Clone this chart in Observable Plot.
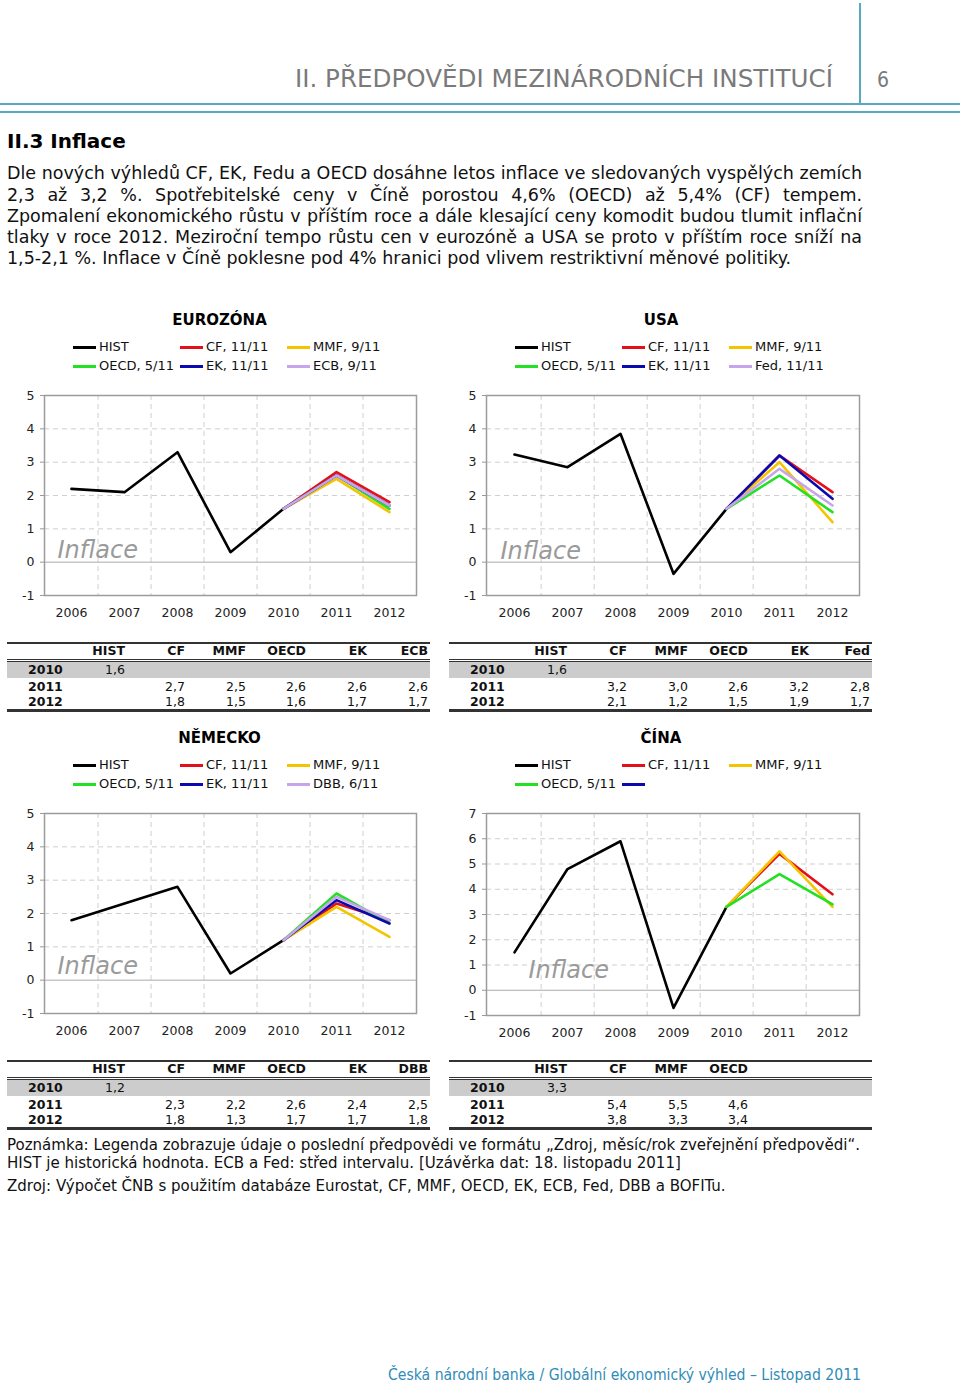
<!DOCTYPE html>
<html><head><meta charset="utf-8">
<script src="https://cdn.jsdelivr.net/npm/d3@7"></script>
<script src="https://cdn.jsdelivr.net/npm/@observablehq/plot@0.6"></script>
<style>
body{margin:0;background:#fff;}
#page{position:relative;width:960px;height:1388px;overflow:hidden;font-family:"DejaVu Sans",Verdana,sans-serif;color:#000;}
.abs{position:absolute;white-space:nowrap;}
</style></head><body><div id="page"></div>
<script>
// ---------- DATA ----------
const years = [2006, 2007, 2008, 2009, 2010, 2011, 2012];
const histYears = [2006, 2007, 2008, 2009, 2010];

// Eurozone
const eaTitle = "EUROZÓNA";
const eaHist = [2.2, 2.1, 3.3, 0.3, 1.6];
const eaNames = ["CF", "MMF", "OECD", "EK", "ECB"];
const eaLegend = ["CF, 11/11", "MMF, 9/11", "OECD, 5/11", "EK, 11/11", "ECB, 9/11"];
const ea2011 = [2.7, 2.5, 2.6, 2.6, 2.6];
const ea2012 = [1.8, 1.5, 1.6, 1.7, 1.7];

// USA
const usTitle = "USA";
const usHist = [3.23, 2.85, 3.85, -0.35, 1.6];
const usNames = ["CF", "MMF", "OECD", "EK", "Fed"];
const usLegend = ["CF, 11/11", "MMF, 9/11", "OECD, 5/11", "EK, 11/11", "Fed, 11/11"];
const us2011 = [3.2, 3.0, 2.6, 3.2, 2.8];
const us2012 = [2.1, 1.2, 1.5, 1.9, 1.7];

// Germany
const deTitle = "NĚMECKO";
const deHist = [1.8, 2.3, 2.8, 0.2, 1.2];
const deNames = ["CF", "MMF", "OECD", "EK", "DBB"];
const deLegend = ["CF, 11/11", "MMF, 9/11", "OECD, 5/11", "EK, 11/11", "DBB, 6/11"];
const de2011 = [2.3, 2.2, 2.6, 2.4, 2.5];
const de2012 = [1.8, 1.3, 1.7, 1.7, 1.8];

// China
const cnTitle = "ČÍNA";
const cnHist = [1.5, 4.8, 5.9, -0.7, 3.3];
const cnNames = ["CF", "MMF", "OECD"];
const cnLegend = ["CF, 11/11", "MMF, 9/11", "OECD, 5/11", "", null];
const cn2011 = [5.4, 5.5, 4.6];
const cn2012 = [3.8, 3.3, 3.4];

const seriesColors = ["#e3101a", "#f5c400", "#22e022", "#0a0ab0", "#c8a4ea"];
const histColor = "#000";

const yTicks5 = [-1, 0, 1, 2, 3, 4, 5];
const yTicks7 = [-1, 0, 1, 2, 3, 4, 5, 6, 7];

const headerTitle = "II. PŘEDPOVĚDI MEZINÁRODNÍCH INSTITUCÍ";
const pageNo = "6";
const sectionTitle = "II.3 Inflace";
const paraLines = [
  "Dle nových výhledů CF, EK, Fedu a OECD dosáhne letos inflace ve sledovaných vyspělých zemích",
  "2,3 až 3,2 %. Spotřebitelské ceny v Číně porostou 4,6% (OECD) až 5,4% (CF) tempem.",
  "Zpomalení ekonomického růstu v příštím roce a dále klesající ceny komodit budou tlumit inflační",
  "tlaky v roce 2012. Meziroční tempo růstu cen v eurozóně a USA se proto v příštím roce sníží na",
  "1,5-2,1 %. Inflace v Číně poklesne pod 4% hranici pod vlivem restriktivní měnové politiky."
];
const noteLines = [
  "Poznámka: Legenda zobrazuje údaje o poslední předpovědi ve formátu „Zdroj, měsíc/rok zveřejnění předpovědi“.",
  "HIST je historická hodnota. ECB a Fed: střed intervalu. [Uzávěrka dat: 18. listopadu 2011]",
  "Zdroj: Výpočet ČNB s použitím databáze Eurostat, CF, MMF, OECD, EK, ECB, Fed, DBB a BOFITu."
];
const footerText = "Česká národní banka / Globální ekonomický výhled – Listopad 2011";

// ---------- HELPERS ----------
const page = document.getElementById("page");
function el(tag, css, text) {
  const e = document.createElement(tag);
  e.className = "abs";
  Object.assign(e.style, css);
  if (text != null) e.textContent = text;
  page.appendChild(e);
  return e;
}
function line(x, y, w, h, color) {
  return el("div", {left: x + "px", top: y + "px", width: w + "px", height: h + "px", background: color});
}
function fitScale(e, target) {
  const w = e.getBoundingClientRect().width;
  return target / w;
}
const fmt = v => v.toFixed(1).replace(".", ",");

// ---------- HEADER ----------
const teal = "#5aa9c2";
line(859, 3, 1.5, 101, teal);
line(0, 103, 960, 2, teal);
line(0, 111, 960, 1.5, teal);
const ht = el("div", {top: "63px", left: "0px", fontFamily: "DejaVu Sans Condensed", fontSize: "25px", lineHeight: "32px", color: "#7a7a7a"}, headerTitle);
{
  const s = fitScale(ht, 538);
  ht.style.transformOrigin = "left top";
  ht.style.transform = `scaleX(${s})`;
  ht.style.left = (833 - 538) + "px";
}
el("div", {top: "66px", left: "877px", fontFamily: "DejaVu Sans Condensed", fontSize: "21px", lineHeight: "28px", color: "#7a7a7a"}, pageNo);

el("div", {top: "129px", left: "7px", fontWeight: "bold", fontSize: "20px", lineHeight: "24px"}, sectionTitle);

// paragraph
{
  const probe = el("span", {fontSize: "16px", left: "0px", top: "0px", visibility: "hidden"}, paraLines[0]);
  const fs = 16 * fitScale(probe, 855);
  probe.remove();
  const centers = [173, 195, 216, 237, 258];
  paraLines.forEach((t, i) => {
    el("div", {left: "7px", top: (centers[i] - 11) + "px", width: "855px", fontSize: fs + "px", lineHeight: "22px", whiteSpace: "normal", textAlign: i < 4 ? "justify" : "left", textAlignLast: i < 4 ? "justify" : "left", color: "#111"}, t);
  });
}

// ---------- CHART ----------
function drawChart(cfg) {
  const {title, titleX, top, hist, names, legend, f2011, f2012, yTicks, frameL, frameR, plotH, inflDx, inflDy} = cfg;
  const yDomain = [yTicks[0], yTicks[yTicks.length - 1]];
  const tt = el("div", {top: (top - 10) + "px", left: "0px", fontWeight: "bold", fontSize: "15px", lineHeight: "20px"}, title);
  tt.style.left = (titleX - tt.getBoundingClientRect().width / 2) + "px";
  const items = [["HIST", histColor]].concat(legend.map((l, i) => [l, seriesColors[i]]));
  const colX = [frameL + 29, frameL + 136, frameL + 243];
  items.forEach(([lab, col], i) => {
    if (lab === null) return;
    const r = Math.floor(i / 3), c = i % 3;
    const cy = top + 27 + r * 19;
    line(colX[c], cy - 1.5, 23, 3, col);
    if (lab) el("div", {left: (colX[c] + 26) + "px", top: (cy - 9) + "px", fontSize: "13px", lineHeight: "18px", color: "#111"}, lab);
  });
  const histData = histYears.map((y, i) => ({year: y, value: hist[i]}));
  const fc = [];
  names.forEach((n, i) => {
    fc.push({series: n, year: 2010, value: hist[4]}, {series: n, year: 2011, value: f2011[i]}, {series: n, year: 2012, value: f2012[i]});
  });
  const mL = 44, mR = 20, mT = 10, mB = 40;
  const plotW = frameR - frameL;
  const step = plotW / years.length;
  const frameT = top + 75;
  const svg = Plot.plot({
    width: plotW + mL + mR, height: plotH + mT + mB,
    marginLeft: mL, marginRight: mR, marginTop: mT, marginBottom: mB,
    style: {fontFamily: "DejaVu Sans", fontSize: "12px", color: "#222", background: "transparent", overflow: "visible"},
    x: {type: "point", domain: years, padding: 0.5},
    y: {domain: yDomain},
    color: {domain: names, range: seriesColors.slice(0, names.length)},
    marks: [
      Plot.ruleY(yTicks.filter(t => t > yDomain[0] && t < yDomain[1] && t !== 0), {stroke: "#cfcfcf", strokeDasharray: "5,4"}),
      Plot.ruleX(years.slice(0, -1), {dx: step / 2, stroke: "#cfcfcf", strokeDasharray: "5,4"}),
      Plot.ruleY([0], {stroke: "#aaaaaa"}),
      Plot.frame({stroke: "#9c9c9c", strokeWidth: 1.5}),
      Plot.axisY(yTicks, {tickSize: 4, tickPadding: 6, tickFormat: d => String(d), stroke: "#999", fill: "#222", label: null, fontSize: 12.5}),
      Plot.axisX(years, {tickSize: 0, tickPadding: 13, tickFormat: d => String(d), fill: "#222", label: null, fontSize: 12.5}),
      Plot.text(["Inflace"], {frameAnchor: "bottom-left", textAnchor: "start", lineAnchor: "bottom", dx: inflDx, dy: -inflDy, fontSize: 24, fontStyle: "italic", fill: "#9a9a9a"}),
      Plot.line(histData, {x: "year", y: "value", stroke: histColor, strokeWidth: 2.6}),
      Plot.line(fc, {x: "year", y: "value", z: "series", stroke: "series", strokeWidth: 2.6})
    ]
  });
  svg.style.position = "absolute";
  svg.style.left = (frameL - mL) + "px";
  svg.style.top = (frameT - mT) + "px";
  page.appendChild(svg);
}

// ---------- TABLE ----------
function drawTable(cfg) {
  const {left, top, hist, names, f2011, f2012} = cfg;
  const W = 423;
  const colR = [118, 178, 239, 299, 360, 421];
  line(left, top, W, 2, "#333");
  line(left, top + 17, W, 1, "#333");
  line(left, top + 19, W, 1, "#333");
  line(left, top + 20, W, 16, "#cccccc");
  line(left, top + 67, W, 2.5, "#333");
  const cell = (txt, rightX, cy, bold) => {
    const d = el("div", {top: (cy - 8) + "px", left: "0px", fontSize: "12.5px", lineHeight: "16px", fontWeight: bold ? "bold" : "normal", color: "#111"}, txt);
    d.style.left = (left + rightX - d.getBoundingClientRect().width) + "px";
  };
  const rowL = (txt, cy) => el("div", {top: (cy - 8) + "px", left: (left + 21) + "px", fontSize: "12.5px", lineHeight: "16px", fontWeight: "bold", color: "#111"}, txt);
  ["HIST"].concat(names).forEach((h, i) => cell(h, colR[i], top + 9, true));
  rowL("2010", top + 28); rowL("2011", top + 44.5); rowL("2012", top + 60);
  cell(fmt(hist[4]), colR[0], top + 28, false);
  names.forEach((n, i) => {
    cell(fmt(f2011[i]), colR[i + 1], top + 44.5, false);
    cell(fmt(f2012[i]), colR[i + 1], top + 60, false);
  });
}

drawChart({title: eaTitle, titleX: 219.5, top: 320, hist: eaHist, names: eaNames, legend: eaLegend, f2011: ea2011, f2012: ea2012, yTicks: yTicks5, frameL: 44, frameR: 416, plotH: 200, inflDx: 13, inflDy: 38});
drawChart({title: usTitle, titleX: 661, top: 320, hist: usHist, names: usNames, legend: usLegend, f2011: us2011, f2012: us2012, yTicks: yTicks5, frameL: 486, frameR: 859, plotH: 200, inflDx: 14, inflDy: 37});
drawChart({title: deTitle, titleX: 219.5, top: 738, hist: deHist, names: deNames, legend: deLegend, f2011: de2011, f2012: de2012, yTicks: yTicks5, frameL: 44, frameR: 416, plotH: 200, inflDx: 13, inflDy: 40});
drawChart({title: cnTitle, titleX: 661, top: 738, hist: cnHist, names: cnNames, legend: cnLegend, f2011: cn2011, f2012: cn2012, yTicks: yTicks7, frameL: 486, frameR: 859, plotH: 202, inflDx: 42, inflDy: 38});

drawTable({left: 7, top: 642, hist: eaHist, names: eaNames, f2011: ea2011, f2012: ea2012});
drawTable({left: 449, top: 642, hist: usHist, names: usNames, f2011: us2011, f2012: us2012});
drawTable({left: 7, top: 1060, hist: deHist, names: deNames, f2011: de2011, f2012: de2012});
drawTable({left: 449, top: 1060, hist: cnHist, names: cnNames, f2011: cn2011, f2012: cn2012});

// ---------- NOTES ----------
{
  const centers = [1145, 1163, 1186];
  const els = noteLines.map((t, i) => el("div", {left: "7px", top: (centers[i] - 9) + "px", fontFamily: "DejaVu Sans Condensed", fontSize: "15px", lineHeight: "18px", color: "#111", transformOrigin: "left top"}, t));
  const s = fitScale(els[0], 853);
  els.forEach(e => e.style.transform = `scaleX(${s})`);
}
{
  const f = el("div", {left: "0px", top: "1366px", fontFamily: "DejaVu Sans Condensed", fontSize: "15px", lineHeight: "18px", color: "#2f8cb8", transformOrigin: "left top"}, footerText);
  const s = fitScale(f, 473);
  f.style.transform = `scaleX(${s})`;
  f.style.left = (861 - 473) + "px";
}
</script></body></html>
